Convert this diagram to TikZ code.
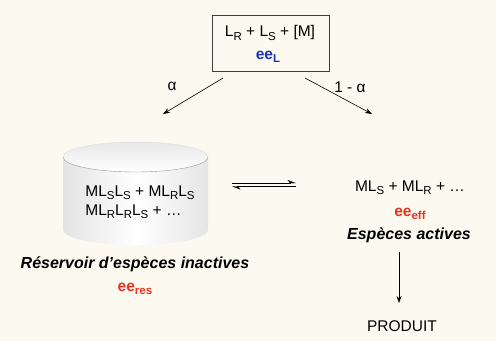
\documentclass[tikz,border=0pt]{standalone}
\usepackage{fontspec}
\setmainfont{Liberation Sans}
\usetikzlibrary{arrows.meta, positioning, calc}
\definecolor{creamBg}{RGB}{252,250,240}
\definecolor{eeBlue}{RGB}{30,50,180}
\definecolor{eeRed}{RGB}{232,50,30}
\definecolor{rimGray}{RGB}{150,150,150}
\newcommand{\sbs}[1]{\raisebox{-0.22em}{\fontsize{11.5}{12}\selectfont #1}}
\newcommand{\eesub}[1]{\textbf{ee\raisebox{-0.22em}{\fontsize{11.5}{12}\selectfont #1}}}

\begin{document}
\begin{tikzpicture}[x=1pt, y=1pt,
    txt/.style={inner sep=0pt, font=\fontsize{15.5}{18}\selectfont},
    lbl/.style={txt, font=\fontsize{16}{18}\selectfont\bfseries\itshape},
    arr/.style={-{Stealth[length=7pt, width=5pt]}, semithick}
  ]
    \useasboundingbox (0,0) rectangle (500,-348);
    \fill[white] (0,0) rectangle (500,-348);
    \fill[creamBg] (0,0) rectangle (496,-341);

    % starting mixture
    \node[draw=black!75, thick, fill=creamBg, minimum width=117pt,
          minimum height=56pt] (box) at (270.5,-43) {};
    \node[txt] (lig) at (270,-33) {L\sbs{R} + L\sbs{S} + [M]};
    \node[txt, text=eeBlue] (eeL) at (268,-57) {\eesub{L}};

    % branching arrows
    \coordinate (aS) at (223,-78);
    \coordinate (aE) at (163,-114);
    \coordinate (bS) at (305,-78);
    \coordinate (bE) at (372,-114);
    \draw[arr] (aS) -- (aE);
    \draw[arr] (bS) -- (bE);
    \node[txt] (alpha) at (172,-86) {α};
    \node[txt] (oneMinus) at (350,-87) {1 - α};

    % reservoir cylinder
    \shade[left color=black!11, right color=black!10, middle color=white]
      (63,-157) -- (63,-230)
      arc[start angle=180, end angle=360, x radius=72.5, y radius=15]
      -- (208,-157)
      arc[start angle=0, end angle=180, x radius=72.5, y radius=15] -- cycle;
    \shade[top color=black!9, bottom color=white]
      (135.5,-157) ellipse[x radius=72.5, y radius=15];
    \draw[rimGray, thin]
      (63,-157) arc[start angle=180, end angle=360, x radius=72.5, y radius=15];
    \draw[black!12, thin]
      (63,-157) arc[start angle=180, end angle=0, x radius=72.5, y radius=15];
    \node[txt, align=left] (resv) at (140,-202)
      {ML\sbs{S}L\sbs{S} + ML\sbs{R}L\sbs{S}\\[1pt] ML\sbs{R}L\sbs{R}L\sbs{S} + \dots};

    % equilibrium
    \coordinate (eqL1) at (232,-183);
    \coordinate (eqR1) at (296,-183);
    \coordinate (eqL2) at (232,-186.5);
    \coordinate (eqR2) at (296,-186.5);
    \draw[-{Stealth[harpoon, length=8pt, width=6pt]}, thin] (eqL1) -- (eqR1);
    \draw[-{Stealth[harpoon, length=8pt, width=6pt]}, thin] (eqR2) -- (eqL2);

    % active species
    \node[txt] (act) at (410,-188) {ML\sbs{S} + ML\sbs{R} + \dots};
    \node[txt, text=eeRed] (eeEff) at (410,-214) {\eesub{eff}};
    \node[lbl] (actLbl) at (409,-235) {Espèces actives};
    \node[txt] (prod) at (402,-326) {PRODUIT};
    \coordinate (pS) at (399,-252);
    \coordinate (pE) at (399,-303);
    \draw[arr] (pS) -- (pE);

    % reservoir labels
    \node[lbl] (resLbl) at (135,-264) {Réservoir d’espèces inactives};
    \node[txt, text=eeRed] (eeRes) at (135,-289) {\eesub{res}};
  \end{tikzpicture}
\end{document}
